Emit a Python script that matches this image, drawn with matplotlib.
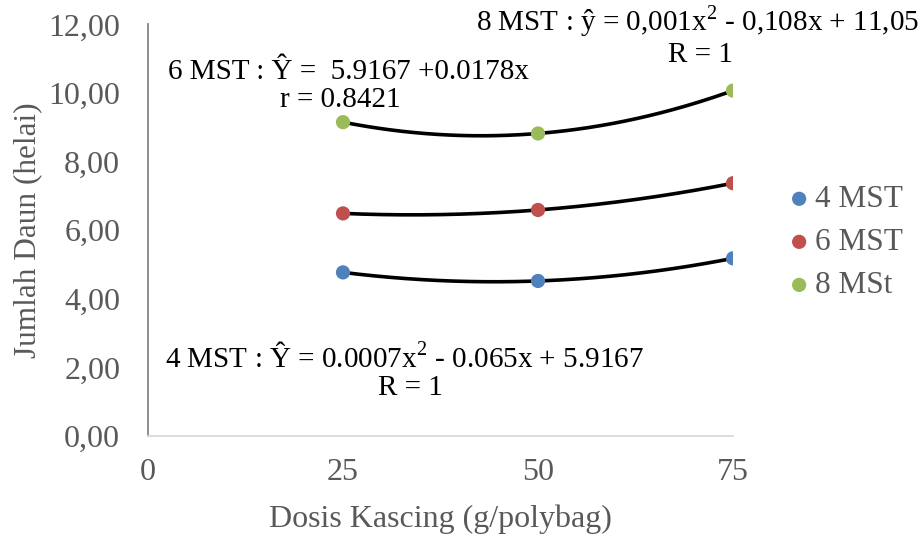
import matplotlib.pyplot as plt
import numpy as np

plt.rcParams['font.family'] = ['Liberation Serif', 'DejaVu Serif']
plt.rcParams['mathtext.fontset'] = 'custom'
plt.rcParams['mathtext.rm'] = 'Liberation Serif'

dosis = [25, 50, 75]
mst4 = [4.77, 4.52, 5.18]
mst6 = [6.49, 6.59, 7.37]
mst8 = [9.15, 8.82, 10.07]
labels = ['4 MST', '6 MST', '8 MSt']
colors = ['#4F81BD', '#C0504D', '#9BBB59']
yticks = [0, 2, 4, 6, 8, 10, 12]
xticks = [0, 25, 50, 75]

W, H = 922, 535
fig = plt.figure(figsize=(W / 100, H / 100), dpi=100)
ax = fig.add_axes([148 / W, 1 - 436 / H, (733 - 148) / W, (436 - 24.4) / H])

grey = '#595959'
xs = np.linspace(25, 75, 200)
for ys, lab, c in zip([mst4, mst6, mst8], labels, colors):
    # excel-style polynomial trendline (order 2)
    p = np.polyfit(dosis, ys, 2)
    ax.plot(xs, np.polyval(p, xs), color='black', lw=2.6, zorder=2)
    ax.scatter(dosis, ys, s=105, color=c, label=lab, zorder=3, edgecolors='none')

ax.set_xlim(0, 75)
ax.set_ylim(0, 12)
ax.set_xticks(xticks)
ax.set_yticks(yticks)
ax.set_yticklabels([('%.2f' % v).replace('.', ',') for v in yticks])
ax.tick_params(length=0, labelsize=23, colors=grey)
ax.tick_params(axis='y', pad=20)
ax.tick_params(axis='x', pad=16)
for s in ['top', 'right']:
    ax.spines[s].set_visible(False)
ax.spines['left'].set_color('#868686')
ax.spines['left'].set_linewidth(1.3)
ax.spines['bottom'].set_color('#D9D9D9')
ax.spines['bottom'].set_linewidth(1.3)

ax.set_xlabel('Dosis Kascing (g/polybag)', fontsize=23, color=grey)
ax.set_ylabel('Jumlah Daun (helai)', fontsize=22.5, color=grey)
ax.xaxis.set_label_coords((440 - 148) / (733 - 148), -(519 - 436) / (436 - 24.4))
ax.yaxis.set_label_coords(-(148 - 28) / (733 - 148), (436 - 230) / (436 - 24.4))
ax.xaxis.label.set_va('center')
ax.yaxis.label.set_va('center')

leg = ax.legend(loc='center left', bbox_to_anchor=(1.065, 0.47), frameon=False,
                fontsize=22.5, handletextpad=0.0, handlelength=1.0,
                labelspacing=0.45, scatterpoints=1, borderaxespad=0)
for t in leg.get_texts():
    t.set_color(grey)

fs = 21
sq = '$^{\\mathrm{2}}$'
fig.text(168 / W, 1 - 72 / H, '6 MST : Ŷ =  5.9167 +0.0178x', fontsize=fs, va='center')
fig.text(340 / W, 1 - 100 / H, 'r = 0.8421', fontsize=fs, va='center', ha='center')
fig.text(919 / W, 1 - 21 / H, '8 MST : ŷ = 0,001x' + sq + ' - 0,108x + 11,05',
         fontsize=fs, va='center', ha='right')
fig.text(700 / W, 1 - 55 / H, 'R = 1', fontsize=fs, va='center', ha='center')
fig.text(165 / W, 1 - 358 / H, '4 MST : Ŷ = 0.0007x' + sq + ' - 0.065x + 5.9167',
         fontsize=fs, va='center')
fig.text(410 / W, 1 - 388 / H, 'R = 1', fontsize=fs, va='center', ha='center')

fig.savefig('out.png', dpi=100)
